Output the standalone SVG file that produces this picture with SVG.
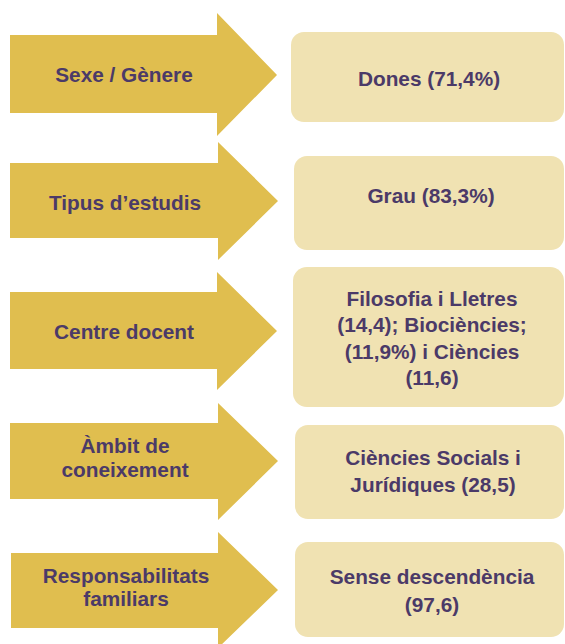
<svg xmlns="http://www.w3.org/2000/svg" width="565" height="644" viewBox="0 0 565 644">
<style>
.arrow{fill:#E0BE4F}
.box{fill:#F0E2B2}
text{font-family:"Liberation Sans",Arial,sans-serif;font-weight:bold;font-size:20.8px;fill:#4B3A68;text-anchor:middle}
</style>
<rect width="565" height="644" fill="#FFFFFF"/>
<g id="arrow-sexe">
<polygon class="arrow" points="10,35 217,35 217,13 277,75 217,136 217,113 10,113"/>
<text x="124" y="82">Sexe / Gènere</text>
</g>
<g id="box-sexe">
<rect class="box" x="291" y="32" width="273" height="90" rx="13"/>
<text x="429" y="86">Dones (71,4%)</text>
</g>
<g id="arrow-estudis">
<polygon class="arrow" points="10,163 218,163 218,142 278,201 218,260 218,238 10,238"/>
<text x="125" y="210">Tipus d’estudis</text>
</g>
<g id="box-estudis">
<rect class="box" x="294" y="156" width="270" height="94" rx="13"/>
<text x="431" y="203">Grau (83,3%)</text>
</g>
<g id="arrow-centre">
<polygon class="arrow" points="10,292 217,292 217,272 277,331 217,390 217,369 10,369"/>
<text x="124" y="339">Centre docent</text>
</g>
<g id="box-centre">
<rect class="box" x="293" y="267" width="271" height="140" rx="14"/>
<text x="432" y="306">Filosofia i Lletres</text>
<text x="432" y="332">(14,4); Biociències;</text>
<text x="432" y="359">(11,9%) i Ciències</text>
<text x="432" y="385">(11,6)</text>
</g>
<g id="arrow-ambit">
<polygon class="arrow" points="10,423 218,423 218,403 278,461 218,520 218,499 10,499"/>
<text x="125" y="453">Àmbit de</text>
<text x="125" y="477">coneixement</text>
</g>
<g id="box-ambit">
<rect class="box" x="295" y="425" width="269" height="94" rx="13"/>
<text x="433" y="465">Ciències Socials i</text>
<text x="433" y="492">Jurídiques (28,5)</text>
</g>
<g id="arrow-resp">
<polygon class="arrow" points="11,553 218,553 218,532 278,590 218,648 218,628 11,628"/>
<text x="126" y="583">Responsabilitats</text>
<text x="126" y="606">familiars</text>
</g>
<g id="box-resp">
<rect class="box" x="295" y="542" width="269" height="95" rx="13"/>
<text x="432" y="584">Sense descendència</text>
<text x="432" y="612">(97,6)</text>
</g>
<g id="connectors"></g>
</svg>
